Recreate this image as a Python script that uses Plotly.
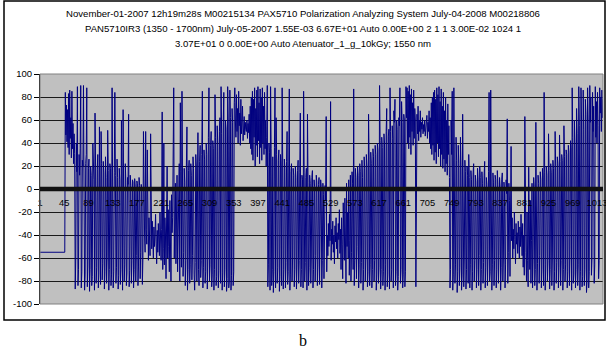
import plotly.graph_objects as go

# ---- measured azimuth (degrees), sample by sample, split into stretches ----
# idle level before the scan starts (samples 1-46)
flat_start = [
    -55, -55, -55, -55, -55, -55, -55, -55, -55, -55,
    -55, -55, -55, -55, -55, -55, -55, -55, -55, -55,
    -55, -55, -55, -55, -55, -55, -55, -55, -55, -55,
    -55, -55, -55, -55, -55, -55, -55, -55, -55, -55,
    -55, -55, -55, -55, -55, -55,
]
# first high burst (47-64)
high_burst_1 = [84, 47, 73, 41, 69, 36, 83, 30, 86, 44, 62, 27, 85, 35, 57, 22, 48, 31]
# falling stretch with wrap-arounds (65-190)
fall_1 = [
    -87, -60, 40, 15, 89, -84, -70, 30, 12, 35,
    90, -86, -72, 25, 20, 90, 14, -88, -74, 22,
    30, 88, -85, -66, 18, 26, -89, -70, 20, 12,
    -84, -76, 40, 15, 8, -88, 66, 20, -82, -68,
    17, 30, -86, -74, 54, 12, -83, 50, 22, -79,
    -65, 24, 14, -87, -72, 28, 10, -82, -60, 51,
    16, -88, -70, 22, 18, -84, -74, 88, 20, -86,
    -72, 14, 84, 12, -82, -68, 26, 10, -87, -75,
    18, 8, -83, -70, 60, 15, -88, 69, 10, -80,
    -66, 22, 6, -84, -73, 10, 4, 65, -85, -71,
    12, 3, -82, -62, 8, 6, -86, -70, 9, 2,
    -80, -58, 7, 5, -84, -67, 10, 3, -78, -55,
    4, -2, -83, -60, 50, -30,
]
# low cluster (191-241)
low_cluster_1 = [
    -40, -55, 50, -35, -48, 34, -30, -62, -25, -45,
    -58, 48, -38, -52, -28, -44, -60, -33, -50, -40,
    -22, -47, -65, -36, -55, -30, -43, -58, -20, -48,
    -62, -35, 67, -70, -52, 40, -66, -25, -40, -78,
    -30, 20, -60, -18, -50, -72, -10, -45, -80, -5,
    -38,
]
# rising stretch (242-355)
rise_1 = [
    -25, 10, 88, -60, -20, 5, -65, -35, 12, -72,
    -45, 8, 22, -80, 75, 15, -68, 85, 10, -76,
    -55, 18, 6, -84, -62, 20, 54, -88, -70, 16,
    25, -82, -66, 22, 12, -79, -58, 28, 18, -74,
    -88, -64, 30, 20, -80, 35, 49, -70, -84, 24,
    38, -77, -62, 30, 85, -86, -68, 34, 26, -82,
    -72, 40, 30, -87, -60, 45, 88, -80, -66, 38,
    50, -85, -74, 42, 35, -88, -70, 82, 45, -84,
    -76, 55, 40, -86, -71, 50, 62, -82, 89, 48,
    -88, -73, 58, 84, -85, -70, 60, 52, -89, -78,
    89, 60, -86, -80, 86, 62, -88, -75, 70, 58,
    -84, -72, 75, 88,
]
# high cluster (356-413)
high_cluster_1 = [
    60, 45, 82, 50, 70, 40, 85, 55, 66, 38,
    78, 48, 60, 72, 42, 55, 63, 47, 58, 52,
    50, 60, 44, 57, 49, 65, 40, 72, 35, 80,
    30, 85, 25, 78, 45, 88, 20, 70, 38, 86,
    28, 89, 42, 75, 22, 87, 36, 80, 25, 88,
    40, 72, 30, 84, 35, 60, 20, 45,
]
# falling stretch (414-522)
fall_2 = [
    90, -85, -66, 40, 32, -88, 89, 35, -84, -70,
    28, -90, -72, 36, 88, -86, 62, 30, -82, -68,
    25, 34, -89, -76, 30, 22, -84, 88, 20, -87,
    -70, 26, 18, -86, -64, 24, 50, -83, -72, 20,
    87, -88, -74, 15, 22, -80, -60, 18, 12, -85,
    -70, 20, 10, -87, -66, 16, 25, -82, -62, 14,
    66, -85, -70, 12, 8, -86, 85, 14, -80, -64,
    10, 18, -88, 65, 6, -84, -68, 12, 5, -82,
    -60, 10, 16, -86, -70, 8, 2, -80, -58, 12,
    6, -84, -66, 4, 10, -83, -55, 8, 2, -86,
    -62, 5, -5, -78, -50, 3, -10, 63, -72,
]
# low cluster (523-560)
low_cluster_2 = [
    -40, -58, -30, -50, -22, -45, 76, -62, -35, -48,
    -28, -55, -40, -65, -32, -46, -25, -52, -38, -60,
    -30, -44, -18, -56, -35, -70, -25, -48, -78, -12,
    -42, -62, -8, -35, -82, 5, -50, -20,
]
# rising stretch (561-667)
rise_2 = [
    -60, 8, -75, -45, 12, -80, -55, 15, 5, -70,
    87, -84, -62, 18, 10, -78, -50, 20, 12, -86,
    -66, 22, 15, -82, -64, 25, 10, -88, -70, 28,
    18, -80, -60, 30, 20, -85, -72, 65, 26, -84,
    -66, 32, 22, -86, -70, 35, 28, -80, -62, 38,
    30, -88, -74, 40, 34, -82, -68, 90, 42, -87,
    -70, 45, 36, -84, -72, 48, 40, -88, -66, 50,
    70, -85, -74, 46, 52, -87, 88, 50, -80, -70,
    55, 44, -86, 68, 58, 78, -84, -72, 60, 52,
    -88, -76, 62, 55, 88, -82, -70, 76, 58, -86,
    -74, 65, 60, -85, -72, 89, 62,
]
# high cluster (668-745)
high_cluster_2 = [
    88, 40, 85, 35, 90, 45, 82, 30, 87, 50,
    75, 38, 86, 44, 70, 60, -85, 40, 65, 48,
    72, 42, 60, 50, 68, 45, 58, 52, 62, 48,
    56, 50, 60, 46, 55, 52, 64, 44, 58, 50,
    68, 40, 62, 35, 75, 30, 80, 38, 84, 25,
    86, 32, 78, 22, 88, 40, 82, 28, 89, 35,
    76, 20, 87, 30, 72, 18, 84, 26, 68, 15,
    80, 22, 60, 12, 74, 30, 55, 10,
]
# falling stretch (746-855)
fall_3 = [
    -86, -70, 60, 30, 85, -88, -74, 88, 28, -82,
    -66, 45, 25, -90, -72, 38, 22, -84, -68, 45,
    20, -88, -74, 65, 18, -85, -60, 25, 15, -87,
    -70, 20, 12, -82, 30, 10, -86, -66, 16, 8,
    -88, -72, 14, 22, -80, -62, 12, 6, -86, -70,
    18, 8, -84, -58, 20, 10, -88, -70, 15, 5,
    -82, -64, 12, 24, -86, -68, 10, 4, -84, -60,
    15, 84, -80, -72, 86, 10, -88, -66, 14, 6,
    -84, -62, 12, 8, -86, -70, 16, 4, -82, -58,
    10, 2, -88, -68, 8, 14, -80, -60, 6, 0,
    -86, -66, 8, -4, 61, -82, -55, 5, -10, -76,
]
# low cluster (856-895)
low_cluster_3 = [
    -30, 37, -45, -25, -60, -35, -52, -20, -44, -65,
    -30, -48, -38, -56, -28, -42, -60, -33, -50, -22,
    -46, -58, -30, -68, -40, -75, 63, -35, -55, -80,
    -20, -62, -85, 19, -50, -70, -10, -82, -45, 5,
]
# final rising stretch and closing high cluster (896-1024)
rise_3 = [
    -86, -60, 10, 2, -84, -70, 58, 8, -88, -65,
    12, 5, -82, -58, 15, 8, -86, -70, 18, 10,
    -84, 84, 14, -88, -66, 20, 12, -80, -62, 48,
    16, -87, -70, 22, 14, -84, -60, 25, 18, -88,
    -72, 50, 20, -82, -64, 28, 22, -86, -68, 47,
    24, -84, -62, 30, 25, -88, -70, 55, 28, -80,
    -66, 34, 30, -86, -72, 38, 32, -84, -60, 42,
    36, -88, 88, 45, -82, -74, 60, 40, -86, -70,
    70, 48, -84, -66, 89, 55, -88, -72, 88, 60,
    -85, -76, 86, 52, -84, -70, 78, 65, -90, -80,
    88, 60, -86, -72, 90, 58, 80, -75, -60, 84,
    50, 72, -82, -66, 89, 45, 76, 40, 84, 55,
    -78, -62, 88, 66, 80, 50, 86, 62, 78,
]

azimuth = (flat_start + high_burst_1 + fall_1 + low_cluster_1 + rise_1
           + high_cluster_1 + fall_2 + low_cluster_2 + rise_2
           + high_cluster_2 + fall_3 + low_cluster_3 + rise_3)
sample = list(range(1, len(azimuth) + 1))

x_tick_values = list(range(1, 1014, 44))
x_tick_labels = [str(v) for v in x_tick_values]
y_tick_values = list(range(-100, 101, 20))
y_tick_labels = [str(v) for v in y_tick_values]

title_lines = [
    "November-01-2007 12h19m28s M00215134 PAX5710 Polarization Analyzing System July-04-2008 M00218806",
    "PAN5710IR3 (1350 - 1700nm) July-05-2007 1.55E-03 6.67E+01 Auto 0.00E+00 2 1 1 3.00E-02 1024 1",
    "3.07E+01 0 0.00E+00 Auto Atenuator_1_g_10kGy; 1550 nm",
]
caption = "b"

# ---- page geometry (pixels) ----
W, H = 606, 356
PLOT_L, PLOT_R, PLOT_T, PLOT_B = 40, 603, 74, 304
FRAME_L, FRAME_R, FRAME_T, FRAME_B = 4, 605, 1, 320


def fx(px):
    return px / W


def fy(py):
    return 1 - py / H


zero_pos = fy((PLOT_T + PLOT_B) / 2)
sans = "Liberation Sans, Arial, sans-serif"
n = len(azimuth)

fig = go.Figure(
    go.Scatter(
        x=sample,
        y=azimuth,
        mode="lines",
        line=dict(color="#000080", width=1),
        hoverinfo="skip",
    )
)

fig.update_layout(
    width=W,
    height=H,
    margin=dict(l=0, r=0, t=0, b=0),
    paper_bgcolor="white",
    plot_bgcolor="#C0C0C0",
    showlegend=False,
    xaxis=dict(
        domain=[fx(PLOT_L), fx(PLOT_R)],
        range=[1, n],
        anchor="free",
        position=zero_pos,
        tickmode="array",
        tickvals=x_tick_values,
        ticktext=x_tick_labels,
        ticks="outside",
        ticklen=5,
        tickcolor="rgba(0,0,0,0)",
        ticklabeloverflow="allow",
        showgrid=False,
        zeroline=False,
        showline=False,
        tickfont=dict(family=sans, size=9.3, color="black"),
        automargin=False,
    ),
    yaxis=dict(
        domain=[fy(PLOT_B), fy(PLOT_T)],
        range=[-100, 100],
        tickmode="array",
        tickvals=y_tick_values,
        ticktext=y_tick_labels,
        ticks="outside",
        ticklen=5,
        tickcolor="black",
        showgrid=True,
        gridcolor="#1a1a1a",
        gridwidth=1,
        zeroline=False,
        showline=True,
        linecolor="black",
        linewidth=1,
        tickfont=dict(family=sans, size=9.5, color="black"),
        automargin=False,
    ),
    shapes=[
        # plot-area border
        dict(type="rect", xref="paper", yref="paper",
             x0=fx(PLOT_L), x1=fx(PLOT_R), y0=fy(PLOT_B), y1=fy(PLOT_T),
             line=dict(color="#808080", width=1), layer="above"),
        # category axis with its dense tick marks, crossing at zero
        dict(type="line", xref="x", yref="y",
             x0=1, x1=n, y0=0, y1=0,
             line=dict(color="#111111", width=4.5), layer="above"),
        # chart-area frame
        dict(type="rect", xref="paper", yref="paper",
             x0=fx(FRAME_L), x1=fx(FRAME_R), y0=fy(FRAME_B), y1=fy(FRAME_T),
             line=dict(color="black", width=1.5)),
    ],
)

# three-line chart title
for text, ypx in zip(title_lines, [14, 28.5, 43]):
    fig.add_annotation(
        x=0.5, y=fy(ypx), xref="paper", yref="paper",
        xanchor="center", yanchor="middle", showarrow=False,
        text=text, font=dict(family=sans, size=9.6, color="black"),
    )

fig.add_annotation(
    x=fx(303), y=fy(340), xref="paper", yref="paper",
    xanchor="center", yanchor="middle", showarrow=False,
    text=caption, font=dict(family="Liberation Serif, Times New Roman, serif", size=16, color="black"),
)

fig.write_html("out.html")
